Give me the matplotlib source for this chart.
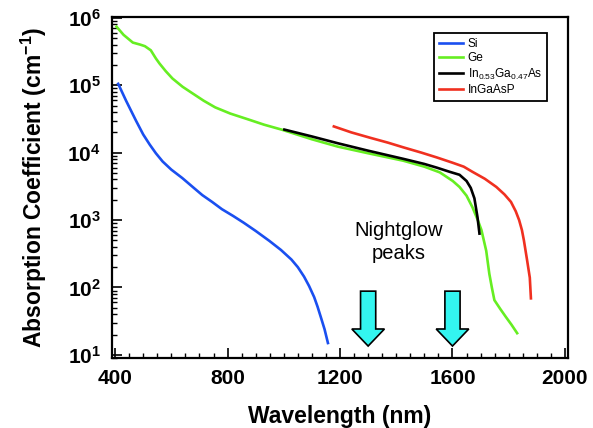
import numpy as np
import matplotlib.pyplot as plt
from matplotlib.patches import FancyArrow
from matplotlib.ticker import MultipleLocator, LogLocator, FixedLocator

plt.rcParams['font.family'] = ['Liberation Sans', 'DejaVu Sans']
plt.rcParams['mathtext.fontset'] = 'custom'
plt.rcParams['mathtext.rm'] = 'Liberation Sans'
plt.rcParams['mathtext.bf'] = 'Liberation Sans:bold'

# absorption spectra (wavelength in nm, coefficient in 1/cm)
si_wl = [411, 439, 474, 500, 523, 545, 569, 600, 639, 680, 710, 745, 780, 820,
         858, 900, 949, 990, 1027, 1050, 1072, 1090, 1108, 1120, 1132, 1145, 1157]
si_alpha = [1.05e5, 5.9e4, 3.0e4, 1.86e4, 1.32e4, 9.8e3, 7.4e3, 5.6e3, 4.2e3,
            3.0e3, 2.35e3, 1.86e3, 1.45e3, 1.15e3, 9.1e2, 6.9e2, 4.9e2, 3.6e2,
            2.6e2, 2.0e2, 1.45e2, 1.05e2, 72, 52, 36, 24, 15]

ge_wl = [405, 430, 463, 490, 506, 527, 545, 558, 580, 604, 640, 675, 715, 756,
         810, 875, 930, 992, 1100, 1192, 1300, 1425, 1500, 1555, 1601, 1625,
         1650, 1671, 1690, 1703, 1720, 1731, 1740, 1749, 1770, 1791, 1810, 1830]
ge_alpha = [7.4e5, 5.6e5, 4.3e5, 4.0e5, 3.8e5, 3.3e5, 2.5e5, 2.1e5, 1.62e5, 1.26e5,
            9.5e4, 7.6e4, 5.9e4, 4.7e4, 3.8e4, 3.1e4, 2.6e4, 2.2e4, 1.58e4, 1.23e4,
            9.8e3, 7.6e3, 6.2e3, 5.1e3, 3.8e3, 3.1e3, 2.3e3, 1.55e3, 1.0e3, 7.1e2,
            3.5e2, 1.6e2, 1.0e2, 65, 48, 36, 28, 21]

ingaas_wl = [1002, 1100, 1192, 1300, 1425, 1500, 1544, 1590, 1625, 1650, 1665,
             1678, 1689, 1696]
ingaas_alpha = [2.2e4, 1.74e4, 1.38e4, 1.07e4, 8.1e3, 6.8e3, 6.0e3, 5.2e3, 4.7e3,
                3.8e3, 3.0e3, 2.1e3, 1.1e3, 6.3e2]

ingaasp_wl = [1178, 1240, 1308, 1370, 1425, 1490, 1544, 1600, 1640, 1671, 1715,
              1756, 1785, 1808, 1825, 1837, 1847, 1854, 1865, 1875, 1879]
ingaasp_alpha = [2.45e4, 2.0e4, 1.66e4, 1.41e4, 1.2e4, 1.0e4, 8.5e3, 7.1e3, 6.2e3,
                 5.2e3, 4.1e3, 3.1e3, 2.4e3, 1.86e3, 1.35e3, 1.0e3, 7.1e2, 5.0e2,
                 2.6e2, 1.4e2, 69]

# nightglow emission peaks
glow_wl = [1300, 1600]

fig = plt.figure(figsize=(5.93, 4.28), dpi=100)
ax = fig.add_axes([0.1889, 0.1636, 0.769, 0.7967])

ax.semilogy(si_wl, si_alpha, color='#1a4ff0', lw=1.9, label='Si')
ax.semilogy(ge_wl, ge_alpha, color='#66ee22', lw=1.9, label='Ge')
ax.semilogy(ingaas_wl, ingaas_alpha, color='black', lw=1.9,
            label='In$_{0.53}$Ga$_{0.47}$As')
ax.semilogy(ingaasp_wl, ingaasp_alpha, color='#f03020', lw=1.9, label='InGaAsP')

ax.set_xlim(389, 2011)
ax.set_ylim(9.0, 1.03e6)

# block arrows under the nightglow peaks (x in nm, y in axes fraction)
trans = ax.get_xaxis_transform()
for wl in glow_wl:
    arr = FancyArrow(wl, 0.196, 0, -0.161, width=54, head_width=116,
                     head_length=0.05, length_includes_head=True,
                     transform=trans, facecolor='#33f5f0', edgecolor='black', lw=1.2)
    ax.add_patch(arr)
ax.text(1410, 0.358, 'Nightglow', transform=trans, ha='center', va='baseline',
        fontsize=14.5)
ax.text(1410, 0.290, 'peaks', transform=trans, ha='center', va='baseline',
        fontsize=14.5)

ax.set_xticks([400, 800, 1200, 1600, 2000])
ax.xaxis.set_minor_locator(MultipleLocator(50))
ax.yaxis.set_major_locator(FixedLocator([1e1, 1e2, 1e3, 1e4, 1e5, 1e6]))
ax.yaxis.set_minor_locator(LogLocator(base=10, subs=np.arange(2, 10)))
ax.set_yticklabels([r'$\mathbf{10^{%d}}$' % k for k in range(1, 7)])

ax.tick_params(which='both', direction='in', top=False, right=False)
ax.tick_params(which='major', length=7, width=1.2, labelsize=15)
ax.tick_params(which='minor', length=3.6, width=1.0)
ax.tick_params(axis='x', which='major', pad=8)
ax.tick_params(axis='y', which='major', pad=8)
for lab in ax.get_xticklabels():
    lab.set_fontweight('bold')
for sp in ax.spines.values():
    sp.set_linewidth(1.6)

ax.set_xlabel('Wavelength (nm)', fontsize=16.5, fontweight='bold', labelpad=12)
ax.set_ylabel(r'Absorption Coefficient (cm$^{\mathbf{-1}}$)', fontsize=16.5,
              fontweight='bold', labelpad=13)

leg = ax.legend(loc='upper right', bbox_to_anchor=(0.954, 0.953), borderaxespad=0,
                fontsize=8.6, handlelength=2.0, handletextpad=0.4,
                labelspacing=0.2, borderpad=0.4, fancybox=False, framealpha=1)
leg.get_frame().set_edgecolor('black')
leg.get_frame().set_linewidth(1.3)

fig.savefig('out.png', dpi=100)
